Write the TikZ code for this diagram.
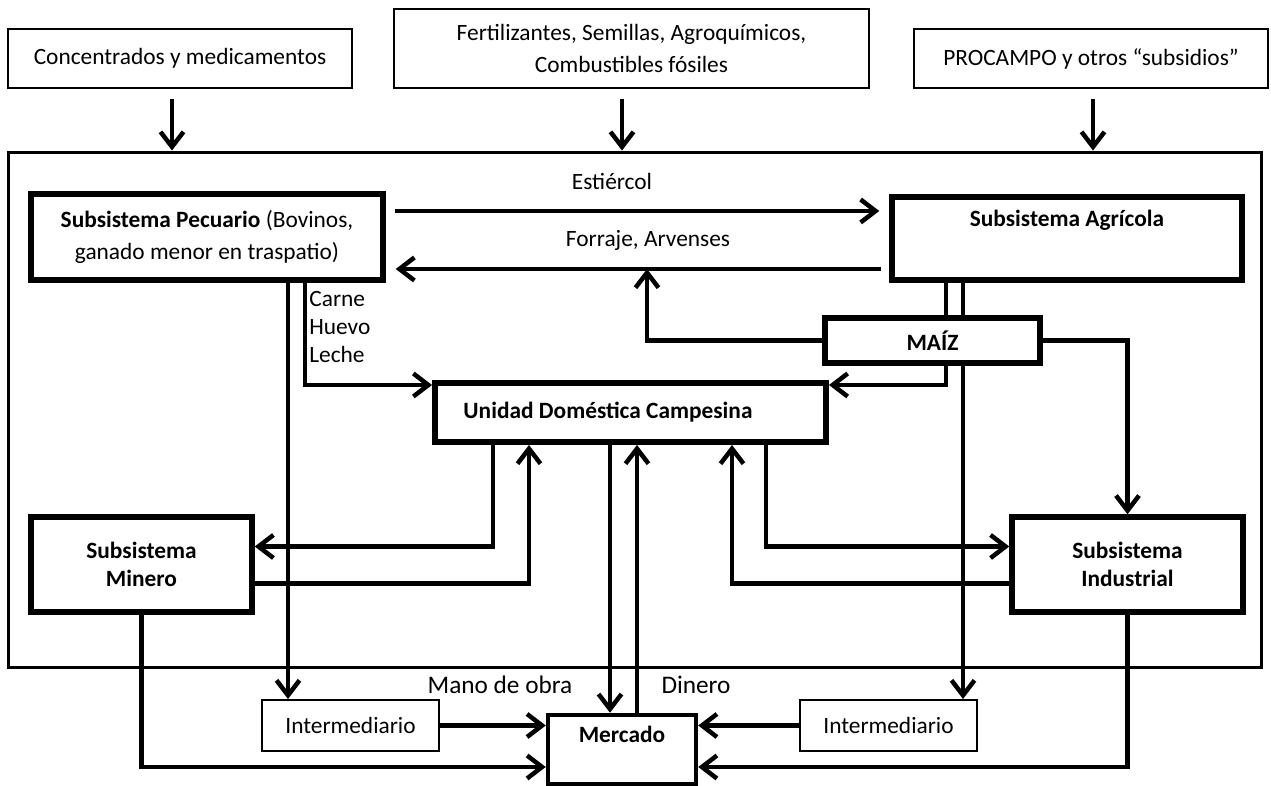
\documentclass[tikz,border=0pt]{standalone}
\usepackage{fontspec}
\setmainfont{Carlito}
\usetikzlibrary{arrows.meta}
\tikzset{
    every node/.style={font=\fontsize{13.3}{16}\selectfont},
    inputbox/.style={draw, line width=0.04cm, align=center, inner sep=0pt},
    subsystem/.style={draw, line width=0.11cm, align=center, inner sep=0pt, fill=white},
    frame/.style={draw, line width=0.06cm, inner sep=0pt},
    flow/.style={line width=0.09cm, -{Straight Barb[length=0.3cm,width=0.46cm]}},
    flowlabel/.style={inner sep=0pt}
}

\begin{document}
\begin{tikzpicture}[x=0.02cm, y=-0.02cm]
    \useasboundingbox (0,0) rectangle (1271,786);

    % Outer frame of the production unit
    \node[frame, minimum width=25.08cm, minimum height=10.32cm] (finca) at (635,410) {};

    % External inputs
    \node[inputbox, minimum width=6.88cm, minimum height=1.18cm] (conc) at (180,58.5) {Concentrados y medicamentos};
    \node[inputbox, minimum width=9.5cm, minimum height=1.58cm] (fert) at (631.5,48.5) {Fertilizantes, Semillas, Agroquímicos,\\[2pt] Combustibles fósiles};
    \node[inputbox, minimum width=7.08cm, minimum height=1.18cm] (proc) at (1091,58.5) {PROCAMPO y otros “subsidios”};

    \draw[flow, shorten <=0.2cm] (172,0 |- conc.south) -- (172,0 |- finca.north);
    \draw[flow, shorten <=0.2cm] (622,0 |- fert.south) -- (622,0 |- finca.north);
    \draw[flow, shorten <=0.2cm] (1093,0 |- proc.south) -- (1093,0 |- finca.north);

    % Subsystems
    \node[subsystem, minimum width=7.04cm, minimum height=1.72cm] (pecu) at (207,237) {\textbf{Subsistema Pecuario} (Bovinos,\\[2pt] ganado menor en traspatio)};
    \node[subsystem, minimum width=7.0cm, minimum height=1.66cm] (agri) at (1067,238.5) {\textbf{Subsistema Agrícola}\\[2pt] \strut};
    \node[subsystem, minimum width=4.3cm, minimum height=0.9cm] (maiz) at (932.5,340.5) {\textbf{MAÍZ}};
    \node[subsystem, line width=0.12cm, minimum width=7.82cm, minimum height=1.18cm] (udc) at (630.5,412.5) {\textbf{Unidad Doméstica Campesina}\hspace*{0.9cm}};
    \node[subsystem, minimum width=4.42cm, minimum height=1.9cm] (mine) at (141.5,564.5) {\textbf{Subsistema}\\\textbf{Minero}};
    \node[subsystem, minimum width=4.62cm, minimum height=1.9cm] (indu) at (1127.5,564.5) {\textbf{Subsistema}\\\textbf{Industrial}};

    % Market side
    \node[inputbox, minimum width=3.54cm, minimum height=1.02cm] (inte1) at (350.5,725.5) {Intermediario};
    \node[inputbox, minimum width=3.54cm, minimum height=1.02cm] (inte2) at (888.5,725.5) {Intermediario};
    \node[subsystem, line width=0.09cm, minimum width=2.96cm, minimum height=1.38cm] (merc) at (622,749.5) {\textbf{Mercado}\\[-3pt] \strut};

    % Flows between livestock and crops
    \coordinate (est) at (395,211);
    \coordinate (forr) at (881,269);
    \draw[flow, shorten >=0.2cm] (est) -- (est -| agri.west);
    \draw[flow, shorten >=0.2cm] (forr) -- (forr -| pecu.east);
    \node[flowlabel] (estlabel) at (612,181) {Estiércol};
    \node[flowlabel] (forrlabel) at (648,240) {Forraje, Arvenses};

    \draw[flow] (288,0 |- pecu.south) -- (288,0 |- inte1.north);
    \draw[flow] (305,0 |- pecu.south) |- ([yshift=-0.1cm]udc.north west);
    \node[flowlabel, anchor=north west, align=left] (carnelabel) at (309,291) {Carne\\Huevo\\Leche};

    % Maize
    \draw[line width=0.09cm] (946,0 |- agri.south) -- (946,0 |- maiz.north);
    \draw[line width=0.09cm] (963,0 |- agri.south) -- (963,0 |- maiz.north);
    \draw[flow] (946,0 |- maiz.south) |- ([yshift=-0.1cm]udc.north east);
    \draw[flow] (963,0 |- maiz.south) -- (963,0 |- inte2.north);
    \draw[flow] (maiz.west) -| (647,0 |- forr);
    \draw[flow] (maiz.east) -| (indu.north);

    % Household with mining and industry
    \draw[flow] (493,0 |- udc.south) |- ([yshift=0.36cm]mine.east);
    \draw[flow] ([yshift=-0.38cm]mine.east) -| (529,0 |- udc.south);
    \draw[flow] (766,0 |- udc.south) |- ([yshift=0.36cm]indu.west);
    \draw[flow] ([yshift=-0.38cm]indu.west) -| (732,0 |- udc.south);

    % Household and market
    \draw[flow] (610,0 |- udc.south) -- (610,0 |- merc.north);
    \draw[flow] (637,0 |- merc.north) -- (637,0 |- udc.south);
    \node[flowlabel, font=\fontsize{14.4}{17}\selectfont] (manolabel) at (500,685) {Mano de obra};
    \node[flowlabel, font=\fontsize{14.4}{17}\selectfont] (dinerolabel) at (696,685) {Dinero};

    \draw[flow] (inte1.east) -- (inte1.east -| merc.west);
    \draw[flow] (inte2.west) -- (inte2.west -| merc.east);
    \draw[flow] (mine.south) |- ([yshift=-0.35cm]merc.west);
    \draw[flow] (indu.south) |- ([yshift=-0.35cm]merc.east);
\end{tikzpicture}
\end{document}
